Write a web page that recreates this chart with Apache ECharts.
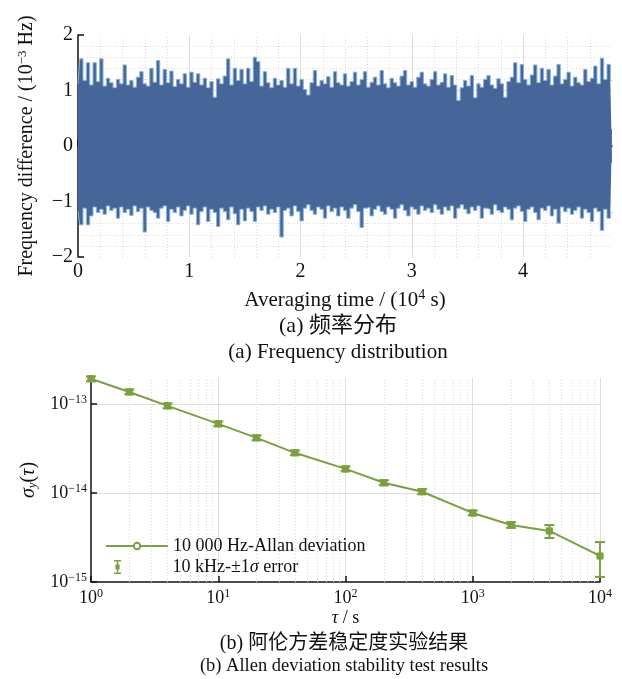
<!DOCTYPE html>
<html><head><meta charset="utf-8">
<script src="https://cdn.jsdelivr.net/npm/echarts@6/dist/echarts.min.js"></script>
<style>html,body{margin:0;padding:0;background:#fff}#c{width:622px;height:679px}</style>
</head><body><div id="c"></div>
<script>
// ---------- (a) frequency difference envelope (10^-3 Hz) ----------
const sampleStep = 0.03; // 10^4 s between envelope samples
const upperEnvelope = [
 1.12,1.57,1.18,1.50,1.10,1.50,1.16,1.57,1.08,1.22,
 1.14,1.05,1.20,1.12,1.46,1.10,1.18,1.06,1.24,1.34,
 1.12,1.08,1.40,1.15,1.54,1.10,1.38,1.14,1.35,1.07,
 1.20,1.12,1.30,1.06,1.33,1.15,1.30,1.10,1.22,1.05,
 1.16,0.88,1.21,1.12,1.26,1.57,1.10,1.40,1.18,1.38,
 1.12,1.40,1.16,1.60,1.52,1.08,1.34,1.14,1.05,1.22,
 1.10,1.18,1.06,1.40,1.12,1.40,1.08,1.20,1.02,0.92,
 1.14,1.36,1.08,1.18,1.12,1.25,1.06,1.34,1.14,1.10,
 1.30,1.08,1.16,1.33,1.10,1.20,1.34,1.06,1.15,1.24,
 1.10,1.36,1.12,1.05,1.22,1.14,1.08,1.26,1.36,1.10,
 1.16,1.06,1.24,1.33,1.12,1.08,1.20,1.34,1.10,1.15,
 1.30,1.06,1.27,1.10,0.82,1.05,1.18,1.08,1.27,0.87,
 1.12,1.06,1.20,1.27,1.10,1.04,1.21,1.12,0.88,1.16,
 1.24,1.50,1.14,1.47,1.20,1.10,1.28,1.46,1.14,1.40,
 1.18,1.38,1.10,1.26,1.47,1.12,1.20,1.33,1.08,1.24,
 1.14,1.10,1.38,1.16,1.22,1.44,1.12,1.58,1.20,1.47,
 1.18
];
const lowerEnvelope = [
 -1.18,-1.42,-1.12,-1.42,-1.26,-1.10,-1.20,-1.14,-1.23,-1.08,
 -1.16,-1.12,-1.30,-1.10,-1.20,-1.14,-1.25,-1.08,-1.18,-1.12,
 -1.55,-1.10,-1.16,-1.20,-1.30,-1.12,-1.08,-1.36,-1.14,-1.20,
 -1.10,-1.26,-1.16,-1.08,-1.23,-1.12,-1.42,-1.18,-1.10,-1.36,
 -1.14,-1.20,-1.45,-1.12,-1.18,-1.33,-1.10,-1.22,-1.42,-1.14,
 -1.35,-1.12,-1.18,-1.36,-1.10,-1.16,-1.08,-1.23,-1.14,-1.20,
 -1.10,-1.64,-1.16,-1.12,-1.26,-1.08,-1.18,-1.35,-1.12,-1.06,
 -1.16,-1.23,-1.10,-1.14,-1.30,-1.08,-1.18,-1.12,-1.26,-1.10,
 -1.16,-1.30,-1.12,-1.06,-1.18,-1.47,-1.12,-1.10,-1.26,-1.14,
 -1.08,-1.18,-1.23,-1.10,-1.14,-1.30,-1.12,-1.06,-1.16,-1.26,
 -1.10,-1.14,-1.23,-1.08,-1.16,-1.12,-1.20,-1.06,-1.14,-1.23,
 -1.10,-1.16,-1.08,-1.30,-1.12,-1.06,-1.14,-1.22,-1.10,-1.16,
 -1.08,-1.30,-1.12,-1.14,-1.23,-1.06,-1.16,-1.20,-1.10,-1.14,
 -1.33,-1.12,-1.08,-1.18,-1.36,-1.14,-1.10,-1.20,-1.33,-1.12,
 -1.16,-1.08,-1.26,-1.14,-1.39,-1.10,-1.18,-1.12,-1.23,-1.16,
 -1.10,-1.30,-1.14,-1.20,-1.36,-1.12,-1.18,-1.52,-1.14,-1.30,
 -1.20
];
const aMinorGridX = [0.2,0.4,0.6,0.8,1.2,1.4,1.6,1.8,2.2,2.4,2.6,2.8,3.2,3.4,3.6,3.8,4.2,4.4,4.6];

// ---------- (b) Allan deviation ----------
const tauValues  = [1, 2, 4, 10, 20, 40, 100, 200, 400, 1000, 2000, 4000, 10000];
const adevValues = [1.91e-13,1.36e-13,9.5e-14,5.96e-14,4.15e-14,2.82e-14,1.86e-14,1.30e-14,1.03e-14,5.96e-15,4.37e-15,3.74e-15,1.96e-15];
const errLow  = [1.79e-13,1.28e-13,8.9e-14,5.6e-14,3.9e-14,2.65e-14,1.75e-14,1.22e-14,9.7e-15,5.6e-15,4.05e-15,3.12e-15,1.14e-15];
const errHigh = [2.03e-13,1.45e-13,1.01e-13,6.35e-14,4.42e-14,3.0e-14,1.98e-14,1.39e-14,1.1e-14,6.35e-15,4.7e-15,4.37e-15,2.81e-15];
const bMinorGridX = [2,3,4,5,6,7,8,9,20,30,40,50,60,70,80,90,200,300,400,500,600,700,800,900,2000,3000,4000,5000,6000,7000,8000,9000];
const bMinorGridY = [2e-15,3e-15,4e-15,5e-15,6e-15,7e-15,8e-15,9e-15,2e-14,3e-14,4e-14,5e-14,6e-14,7e-14,8e-14,9e-14];

const nameA = '10 000 Hz-Allan deviation';
const nameB = '10 kHz-±1σ error';

const SERIF = '"Liberation Serif","Times New Roman",serif';
const CJK = '"Liberation Serif","Noto Sans CJK SC",serif';
const BLUE = '#46669a';
const BLUE_EDGE = '#86b3d6';
const GREEN = '#7aa03f';
const MAJOR = '#e9dada';
const MINOR = '#e3d8d8';

const times = upperEnvelope.map((_, i) => +(i * sampleStep).toFixed(3));
const upperData = times.map((t, i) => [t, upperEnvelope[i]]);
const lowerData = times.map((t, i) => [t, lowerEnvelope[i]]);
const adevData = tauValues.map((t, i) => [t, adevValues[i]]);
const errData = tauValues.map((t, i) => [t, adevValues[i], errLow[i], errHigh[i]]);

function supStyle(fs) {
  return { sup: { fontFamily: SERIF, fontSize: fs, padding: [0, 0, Math.round(fs * 0.7), 0], color: '#111' } };
}
function logLabel(v) {
  const e = Math.round(Math.log10(v));
  return '10{sup|' + (e < 0 ? '−' + (-e) : e) + '}';
}

const chart = echarts.init(document.getElementById('c'), null, { renderer: 'canvas' });
chart.setOption({
  animation: false,
  backgroundColor: '#fff',
  grid: [
    { left: 78, right: 10, top: 35, bottom: 422, containLabel: false },
    { left: 91, right: 22, top: 378, bottom: 97, containLabel: false }
  ],
  xAxis: [
    {
      gridIndex: 0, type: 'value', min: 0, max: 4.8, interval: 1,
      name: 'Averaging time / (10{sup|4} s)', nameLocation: 'middle', nameGap: 31,
      nameTextStyle: { fontFamily: SERIF, fontSize: 21, color: '#111', rich: supStyle(14) },
      axisLine: { show: true, lineStyle: { color: '#111', width: 1.5 } },
      axisTick: { show: true, inside: true, length: 6, lineStyle: { color: '#111', width: 1.5 } },
      axisLabel: { fontFamily: SERIF, fontSize: 20, color: '#111', margin: 5, showMaxLabel: false },
      splitLine: { show: true, showMinLine: false, showMaxLine: false, lineStyle: { color: MAJOR, width: 1 } }
    },
    {
      gridIndex: 1, type: 'log', logBase: 10, min: 1, max: 10000,
      name: '{i|τ} / s', nameLocation: 'middle', nameGap: 27,
      nameTextStyle: { fontFamily: SERIF, fontSize: 18, color: '#111', rich: { i: { fontFamily: SERIF, fontSize: 18, fontStyle: 'italic', color: '#111' } } },
      axisLine: { show: true, lineStyle: { color: '#111', width: 1.5 } },
      axisTick: { show: true, inside: true, length: 6, lineStyle: { color: '#111', width: 1.5 } },
      axisLabel: { fontFamily: SERIF, fontSize: 18, color: '#111', margin: 6, formatter: logLabel, rich: supStyle(12) },
      splitLine: { show: true, showMinLine: false, lineStyle: { color: MAJOR, width: 1 } }
    }
  ],
  yAxis: [
    {
      gridIndex: 0, type: 'value', min: -2, max: 2, interval: 1,
      name: 'Frequency difference / (10{sup|−3} Hz)', nameLocation: 'middle', nameGap: 40, nameRotate: 90,
      nameTextStyle: { fontFamily: SERIF, fontSize: 20, color: '#111', rich: supStyle(13) },
      axisLine: { show: true, lineStyle: { color: '#111', width: 1.5 } },
      axisTick: { show: true, inside: true, length: 6, lineStyle: { color: '#111', width: 1.5 } },
      axisLabel: { fontFamily: SERIF, fontSize: 20, color: '#111', margin: 5,
        formatter: v => (v < 0 ? '−' + Math.abs(v) : String(v)) },
      splitLine: { show: true, showMinLine: false, showMaxLine: false, lineStyle: { color: MAJOR, width: 1 } },
      minorTick: { show: false, splitNumber: 5 },
      minorSplitLine: { show: true, lineStyle: { color: MINOR, width: 1, type: [1, 2] } }
    },
    {
      gridIndex: 1, type: 'log', logBase: 10, min: 1e-15, max: 1.95e-13,
      name: '{i|σ}{s|y}{n|(}{i|τ}{n|)}', nameLocation: 'middle', nameGap: 15, nameRotate: 90,
      nameTextStyle: { fontFamily: SERIF, fontSize: 20, color: '#111', rich: {
        i: { fontFamily: SERIF, fontSize: 20, fontStyle: 'italic', color: '#111' },
        s: { fontFamily: SERIF, fontSize: 13, fontStyle: 'italic', color: '#111', padding: [9, 0, 0, 0] },
        n: { fontFamily: SERIF, fontSize: 20, color: '#111' }
      } },
      axisLine: { show: true, lineStyle: { color: '#111', width: 1.5 } },
      axisTick: { show: true, inside: true, length: 6, lineStyle: { color: '#111', width: 1.5 } },
      axisLabel: { fontFamily: SERIF, fontSize: 18, color: '#111', margin: 4, showMaxLabel: false, formatter: logLabel, rich: supStyle(12) },
      splitLine: { show: true, showMinLine: false, showMaxLine: false, lineStyle: { color: MAJOR, width: 1 } }
    }
  ],
  legend: [
    {
      left: 100, top: 532, orient: 'vertical', itemWidth: 62, itemHeight: 8,
      textStyle: { fontFamily: SERIF, fontSize: 18, color: '#111', lineHeight: 18 },
      data: [{ name: nameA }]
    },
    {
      left: 109, top: 553, orient: 'vertical', itemWidth: 12, itemHeight: 14,
      textStyle: { fontFamily: SERIF, fontSize: 18, color: '#111', lineHeight: 18, padding: [0, 0, 0, 44],
        rich: { i: { fontFamily: SERIF, fontSize: 18, fontStyle: 'italic', color: '#111' } } },
      formatter: n => (n === nameB ? '10 kHz-±1{i|σ} error' : n),
      data: [{ name: nameB, icon: 'path://M0,0h10v2h-10z M4,2h2v16h-2z M0,18h10v2h-10z M2,6.5h6v7h-6z' }]
    }
  ],
  series: [
    { // minor grid (a)
      type: 'line', xAxisIndex: 0, yAxisIndex: 0, data: [], z: 1, silent: true,
      markLine: { silent: true, z: 1, symbol: ['none', 'none'], label: { show: false }, animation: false,
        lineStyle: { color: MINOR, width: 1, type: [1, 2] },
        data: aMinorGridX.map(v => ({ xAxis: v })) }
    },
    {
      name: 'upper', type: 'line', xAxisIndex: 0, yAxisIndex: 0, data: upperData, step: 'middle',
      showSymbol: false, symbol: 'none', z: 3,
      lineStyle: { color: BLUE_EDGE, width: 1 },
      areaStyle: { color: BLUE, opacity: 1, origin: -0.3 }
    },
    {
      name: 'lower', type: 'line', xAxisIndex: 0, yAxisIndex: 0, data: lowerData, step: 'middle',
      showSymbol: false, symbol: 'none', z: 3,
      lineStyle: { color: BLUE_EDGE, width: 1 },
      areaStyle: { color: BLUE, opacity: 1, origin: 0.3 }
    },
    { // minor grid (b)
      type: 'line', xAxisIndex: 1, yAxisIndex: 1, data: [], z: 1, silent: true,
      markLine: { silent: true, z: 1, symbol: ['none', 'none'], label: { show: false }, animation: false,
        lineStyle: { color: MINOR, width: 1, type: [1, 2] },
        data: bMinorGridX.map(v => ({ xAxis: v })).concat(bMinorGridY.map(v => ({ yAxis: v }))) }
    },
    {
      name: nameA, type: 'line', xAxisIndex: 1, yAxisIndex: 1, data: adevData, z: 4,
      symbol: 'emptyCircle', symbolSize: 5, showSymbol: true,
      itemStyle: { color: GREEN, borderColor: GREEN, borderWidth: 1.2 },
      lineStyle: { color: GREEN, width: 2 }
    },
    {
      name: nameB, type: 'custom', xAxisIndex: 1, yAxisIndex: 1, data: errData, z: 5, clip: false,
      symbolKeepAspect: true,
      itemStyle: { color: GREEN },
      encode: { x: 0, y: 1 },
      renderItem: function (params, api) {
        const x = api.value(0);
        const pc = api.coord([x, api.value(1)]);
        const pl = api.coord([x, api.value(2)]);
        const ph = api.coord([x, api.value(3)]);
        const hw = 5, ms = 3.5;
        const st = { stroke: GREEN, lineWidth: 2 };
        return { type: 'group', children: [
          { type: 'line', shape: { x1: pc[0], y1: pl[1], x2: pc[0], y2: ph[1] }, style: st },
          { type: 'line', shape: { x1: pc[0] - hw, y1: pl[1], x2: pc[0] + hw, y2: pl[1] }, style: st },
          { type: 'line', shape: { x1: pc[0] - hw, y1: ph[1], x2: pc[0] + hw, y2: ph[1] }, style: st },
          { type: 'rect', shape: { x: pc[0] - ms, y: pc[1] - ms, width: 2 * ms, height: 2 * ms }, style: { fill: GREEN } }
        ] };
      }
    }
  ],
  graphic: [
    { type: 'text', x: 338, y: 326, style: { text: '(a) 频率分布', font: '22px ' + CJK, fill: '#111', textAlign: 'center', textVerticalAlign: 'middle' } },
    { type: 'text', x: 338, y: 352, style: { text: '(a) Frequency distribution', font: '21px ' + SERIF, fill: '#111', textAlign: 'center', textVerticalAlign: 'middle' } },
    { type: 'text', x: 344, y: 644, style: { text: '(b) 阿伦方差稳定度实验结果', font: '20px ' + CJK, fill: '#111', textAlign: 'center', textVerticalAlign: 'middle' } },
    { type: 'text', x: 344, y: 666, style: { text: '(b) Allen deviation stability test results', font: '18.5px ' + SERIF, fill: '#111', textAlign: 'center', textVerticalAlign: 'middle' } }
  ]
});
</script>
</body></html>
